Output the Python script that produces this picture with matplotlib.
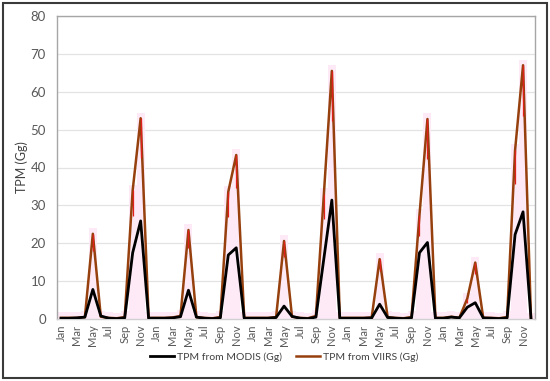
import matplotlib
matplotlib.use("Agg")
import matplotlib.pyplot as plt
import numpy as np

months = ["Jan", "Feb", "Mar", "Apr", "May", "Jun", "Jul", "Aug", "Sep", "Oct", "Nov", "Dec"]
n_years = 5
month_labels = months * n_years

modis = [
    0.2, 0.2, 0.3, 0.5, 7.8, 0.8, 0.2, 0.1, 0.3, 17.5, 25.9, 0.2,
    0.2, 0.2, 0.3, 0.6, 7.6, 0.5, 0.2, 0.1, 0.3, 16.9, 18.8, 0.2,
    0.2, 0.2, 0.2, 0.4, 3.4, 0.7, 0.2, 0.1, 0.5, 16.0, 31.4, 0.2,
    0.2, 0.2, 0.2, 0.3, 3.9, 0.4, 0.2, 0.1, 0.3, 17.5, 20.2, 0.2,
    0.2, 0.5, 0.3, 3.1, 4.3, 0.3, 0.2, 0.1, 0.3, 22.3, 28.3, 0.0,
]
viirs = [
    0.3, 0.3, 0.3, 0.5, 22.5, 0.6, 0.3, 0.2, 0.5, 34.0, 53.0, 0.3,
    0.3, 0.3, 0.4, 0.8, 23.5, 0.5, 0.3, 0.2, 0.5, 33.6, 43.3, 0.3,
    0.3, 0.3, 0.3, 0.5, 20.6, 0.6, 0.3, 0.2, 0.8, 33.0, 65.5, 0.3,
    0.3, 0.3, 0.3, 0.4, 15.8, 0.5, 0.3, 0.2, 0.5, 27.5, 52.8, 0.3,
    0.3, 0.6, 0.3, 5.4, 14.9, 0.3, 0.3, 0.2, 0.5, 44.6, 67.0, 0.0,
]

plt.rcParams['font.family'] = ['Lato', 'DejaVu Sans']

fig = plt.figure(figsize=(5.5, 3.81), dpi=100)
ax = fig.add_axes([57/550, 62/381, 478/550, 303/381])

x = np.arange(len(viirs))
v = np.array(viirs)
m = np.array(modis)

# faint pink shading behind VIIRS
ax.bar(x, v + 1.5, width=1.0, color="#FEEAF7", edgecolor="none", zorder=1)

ax.plot(x, m, color="black", lw=2.0, zorder=4, label="TPM from MODIS (Gg)")
ax.plot(x, v, color="#96400E", lw=1.8, zorder=3, label="TPM from VIIRS (Gg)")
# red core near the VIIRS peaks
ax.vlines(x, v * 0.8, v, color="#E0201A", lw=0.9, zorder=3.5)

ax.set_xlim(-0.5, len(viirs) - 0.5)
ax.set_ylim(0, 80)
ax.set_yticks(np.arange(0, 81, 10))
ax.set_xticks(x[::2])
ax.set_xticklabels(month_labels[::2], rotation=90, fontsize=8, color="#595959")
ax.tick_params(axis="y", labelsize=9.5, colors="#595959", length=0, pad=8)
ax.tick_params(axis="x", length=0, pad=4)
ax.yaxis.grid(True, color="#E3E3E3", lw=0.9, zorder=0)
ax.set_axisbelow(True)
for s in ax.spines.values():
    s.set_color("#A6A6A6")
    s.set_linewidth(1.0)
ax.spines["bottom"].set_color("#D0D0D0")

ax.set_ylabel("TPM (Gg)", fontsize=9, color="#404040", labelpad=2)

leg = fig.legend(loc="center", bbox_to_anchor=(284/550, 24/381), ncol=2, frameon=False,
                 fontsize=7.5, handlelength=2.3, columnspacing=1.3, handletextpad=0.3)
for t in leg.get_texts():
    t.set_color("#404040")

# outer figure border
fig.patches.append(plt.Rectangle((3/550, 3/381), 544/550, 375/381, transform=fig.transFigure,
                                 fill=False, edgecolor="#3A3A3A", lw=1.5))

fig.savefig("out.png", dpi=100)
